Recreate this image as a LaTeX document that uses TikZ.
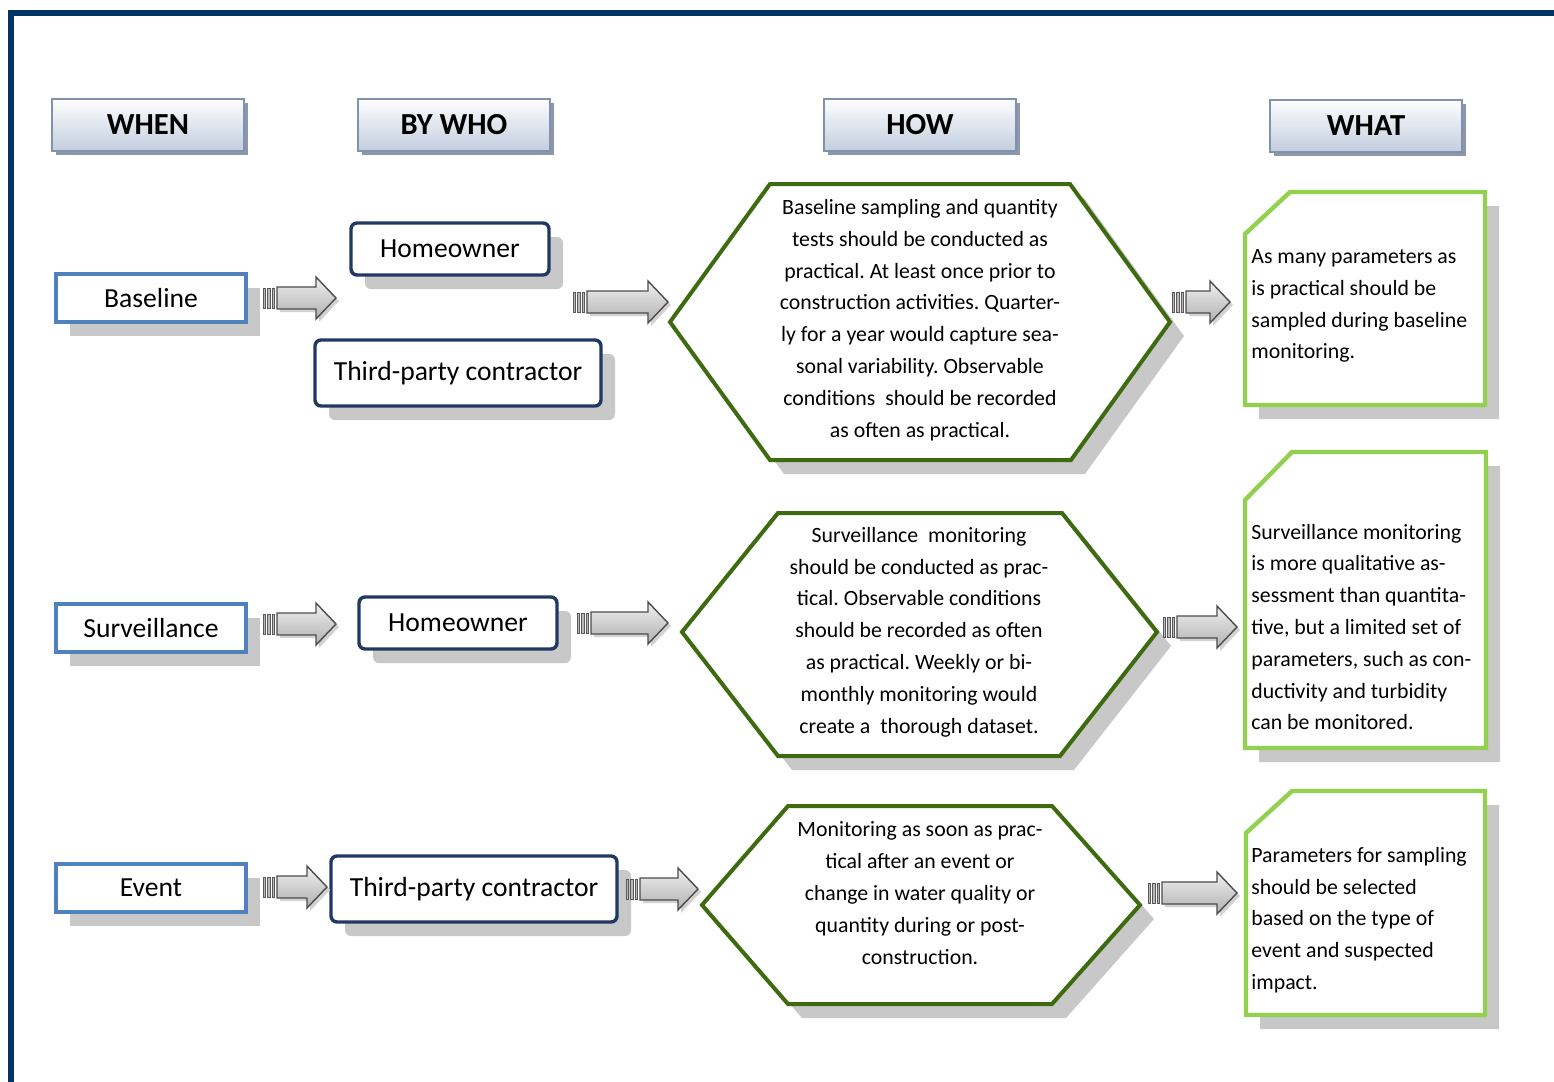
\documentclass[tikz,border=0pt]{standalone}
\usepackage{fontspec}
\setmainfont{Carlito}
\usetikzlibrary{shadows}
\definecolor{frameblue}{RGB}{0,51,102}
\definecolor{headtop}{RGB}{253,254,255}
\definecolor{headbot}{RGB}{194,205,222}
\definecolor{headline}{RGB}{128,146,174}
\definecolor{headshade}{RGB}{140,152,170}
\definecolor{whenblue}{RGB}{79,129,189}
\definecolor{whonavy}{RGB}{31,56,100}
\definecolor{howgreen}{RGB}{62,106,16}
\definecolor{whatgreen}{RGB}{146,208,80}
\definecolor{shadegray}{RGB}{200,200,200}

\tikzset{
  headbox/.style={draw=headline, line width=0.6pt, top color=headtop, bottom color=headbot,
    minimum width=96pt, minimum height=26pt, font=\fontsize{15.3}{18}\selectfont\bfseries,
    drop shadow={shadow xshift=2pt, shadow yshift=-2pt, fill=headshade, opacity=1}},
  farshadow/.style={drop shadow={shadow xshift=7pt, shadow yshift=-7pt, fill=shadegray, opacity=1}},
  whenbox/.style={draw=whenblue, line width=1.8pt, fill=white, minimum width=95pt,
    minimum height=24pt, font=\fontsize{13.8}{16}\selectfont, farshadow},
  whobox/.style={draw=whonavy, line width=1.7pt, rounded corners=3pt, fill=white,
    font=\fontsize{13.8}{16}\selectfont, farshadow},
  hexline/.style={draw=howgreen, line width=2pt, fill=white, farshadow},
  whatline/.style={draw=whatgreen, line width=2.2pt, fill=white, farshadow},
  howtext/.style={align=center, inner sep=0pt, font=\fontsize{10.9}{15.9}\selectfont},
  whattext/.style={align=left, anchor=west, inner sep=0pt, font=\fontsize{10.9}{15.9}\selectfont},
  stripe/.style={fill=gray!55, draw=gray!70!black, line width=0.3pt},
  arrowbody/.style={draw=gray!60!black, line width=0.7pt, top color=gray!12, bottom color=gray!62,
    drop shadow={shadow xshift=1.5pt, shadow yshift=-1.5pt, fill=gray!35, opacity=1}}
}

% block arrow: start x, tip x, y
\newcommand{\blockarr}[3]{%
  \foreach \s in {0,4.5,9}
    \path[stripe] (#1+\s,#3-10) rectangle (#1+\s+2.5,#3+10);
  \path[arrowbody] (#1+14,#3-11) -- (#2-20,#3-11) -- (#2-20,#3-21) -- (#2,#3)
    -- (#2-20,#3+21) -- (#2-20,#3+11) -- (#1+14,#3+11) -- cycle;
}

\begin{document}
\frenchspacing
\begin{tikzpicture}[x=0.5pt, y=-0.5pt]
\useasboundingbox[fill=white] (0,0) rectangle (1554,1082);
\draw[frameblue, line width=3pt] (1570,13) -- (11,13) -- (11,1095);

% headers
\node[headbox] (when) at (148,125) {WHEN};
\node[headbox] (bywho) at (454,125) {BY WHO};
\node[headbox] (how) at (920,125) {HOW};
\node[headbox] (what) at (1366,126) {WHAT};

% when column
\node[whenbox] (baseline) at (151,298) {Baseline};
\node[whenbox] (surveil) at (151,628) {Surveillance};
\node[whenbox] (event) at (151,888) {Event};

% by who column
\node[whobox, minimum width=99pt, minimum height=26pt] (owner1) at (450,249) {Homeowner};
\node[whobox, minimum width=143pt, minimum height=33pt] (third1) at (458,373) {Third-party contractor};
\node[whobox, minimum width=99pt, minimum height=26pt] (owner2) at (458,623) {Homeowner};
\node[whobox, minimum width=143pt, minimum height=33pt] (third2) at (474,889) {Third-party contractor};

% how column
\path[hexline] (670,322) -- (770,184) -- (1070,184) -- (1170,322) -- (1071,460) -- (770,460) -- cycle;
\path[hexline] (682,632) -- (778,513) -- (1062,513) -- (1157,632) -- (1060,756) -- (778,756) -- cycle;
\path[hexline] (702,905) -- (788,806) -- (1052,806) -- (1140,905) -- (1052,1004) -- (788,1004) -- cycle;
\node[howtext] (how1) at (920,320) {Baseline sampling and quantity\\ tests should be conducted as\\
  practical. At least once prior to\\ construction activities. Quarter-\\ ly for a year would capture sea-\\
  sonal variability. Observable\\ conditions\ \ should be recorded\\ as often as practical.};
\node[howtext] (how2) at (919,632) {Surveillance\ \ monitoring\\ should be conducted as prac-\\
  tical. Observable conditions\\ should be recorded as often\\ as practical. Weekly or bi-\\
  monthly monitoring would\\ create a\ \ thorough dataset.};
\node[howtext] (how3) at (920,893) {Monitoring as soon as prac-\\ tical after an event or\\
  change in water quality or\\ quantity during or post-\\ construction.};

% what column
\path[whatline] (1245,234) -- (1290,192) -- (1485,192) -- (1485,405) -- (1245,405) -- cycle;
\path[whatline] (1245,500) -- (1292,452) -- (1486,452) -- (1486,748) -- (1245,748) -- cycle;
\path[whatline] (1246,833) -- (1292,791) -- (1485,791) -- (1485,1015) -- (1246,1015) -- cycle;
\node[whattext] (what1) at (1251,306) {As many parameters as\\ is practical should be\\
  sampled during baseline\\ monitoring.};
\node[whattext] (what2) at (1251,627) {Surveillance monitoring\\ is more qualitative as-\\
  sessment than quantita-\\ tive, but a limited set of\\ parameters, such as con-\\
  ductivity and turbidity\\ can be monitored.};
\node[whattext] (what3) at (1251,920) {Parameters for sampling\\ should be selected\\
  based on the type of\\ event and suspected\\ impact.};

% arrows
\blockarr{263}{336}{298}
\blockarr{573}{668}{302}
\blockarr{1172}{1230}{302}
\blockarr{263}{336}{624}
\blockarr{577}{668}{623}
\blockarr{1163}{1237}{627}
\blockarr{263}{327}{887}
\blockarr{626}{698}{889}
\blockarr{1148}{1237}{893}
\end{tikzpicture}
\end{document}
